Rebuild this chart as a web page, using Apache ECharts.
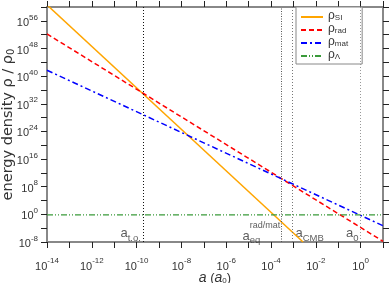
<!DOCTYPE html>
<html><head><meta charset="utf-8">
<script src="https://cdn.jsdelivr.net/npm/echarts@6/dist/echarts.min.js"></script>
<style>html,body{margin:0;padding:0;background:#fff}#c{width:390px;height:283px}</style>
</head><body><div id="c"></div>
<script>
// ---- data (scale factor a, density rho/rho0) ----
const aSI = [1e-14, 2.7e-3];
const rhoSI = [4e60, 1e-8];
const aRad = [1e-14, 10];
const rhoRad = [1.6e52, 1.6e-8];
const aMat = [1e-14, 10];
const rhoMat = [5e41, 5e-4];
const aLam = [1e-14, 10];
const rhoLam = [0.7, 0.7];
// epochs marked by vertical dotted lines
const epochNames = ['t.o.', 'eq', 'CMB', '0'];
const epochA = [1.9e-10, 2.9e-4, 9.1e-4, 1];
// tick labels (exponents of 10)
const xLabelExps = [-14, -12, -10, -8, -6, -4, -2, 0];
const yLabelExps = [-8, 0, 8, 16, 24, 32, 40, 48, 56];

const L = Math.log10;
const pts = (a, r) => a.map((x, i) => [L(x), L(r[i])]);
const FONT = 'Liberation Sans';
const TXT = '#333';
const sup = {fontSize: 8, fontFamily: FONT, color: TXT, verticalAlign: 'top', lineHeight: 9};
const base = {fontSize: 11, fontFamily: FONT, color: TXT, verticalAlign: 'bottom', lineHeight: 15};
const tickFmt = (list) => (v) => list.includes(Math.round(v)) ? `{b|10}{e|${Math.round(v)}}` : '';

const axisCommon = {
  axisLine: {show: true, onZero: false, lineStyle: {color: '#888', width: 2}},
  axisTick: {show: true, inside: false, length: 6, lineStyle: {color: '#222', width: 1}},
  splitLine: {show: false},
  nameMoveOverlap: false
};

const chart = echarts.init(document.getElementById('c'), null, {renderer: 'canvas'});
const vStyles = [
  {color: '#111', type: [1, 2], width: 1},
  {color: '#555', type: [1, 1.5], width: 1},
  {color: '#777', type: [1, 2], width: 1},
  {color: '#999', type: [1, 2], width: 1}
];
const LBL_Y = -5.6;
const annot = [
  {value: [L(epochA[0]), LBL_Y], label: {position: 'left', distance: 2, formatter: '{a|a}{s|t.o.}'}},
  {value: [L(epochA[1]), LBL_Y], label: {position: 'left', distance: 1, offset: [0, -2], formatter: '{sp|}{u|rad/mat}\n{a|a}{s|eq}{pad|}'}},
  {value: [L(epochA[2]), LBL_Y], label: {position: 'right', distance: 3, formatter: '{a|a}{s|CMB}'}},
  {value: [L(epochA[3]), LBL_Y], label: {position: 'left', distance: 2, formatter: '{a|a}{s|0}'}}
];
const annRich = {
  a: {fontSize: 13, fontFamily: FONT, color: TXT, lineHeight: 13, verticalAlign: 'bottom'},
  s: {fontSize: 9.5, fontFamily: FONT, color: TXT, lineHeight: 9, verticalAlign: 'bottom', padding: [0, 0, -3, 0]},
  sp: {width: 8, lineHeight: 9},
  u: {fontSize: 9, fontFamily: FONT, color: TXT, lineHeight: 9},
  pad: {width: 20, lineHeight: 9}
};
const legendNames = {SI: 'SI', rad: 'rad', mat: 'mat', Lambda: 'Λ'};

chart.setOption({
  animation: false,
  grid: {left: 47, right: 7, top: 7, bottom: 41, containLabel: false, outerBoundsMode: 'none'},
  legend: {
    data: ['SI', 'rad', 'mat', 'Lambda'],
    orient: 'vertical', left: 296, top: 7,
    padding: [3, 14, 3, 4], itemGap: 1, itemWidth: 22, itemHeight: 10,
    backgroundColor: '#fff', borderColor: '#888', borderWidth: 1,
    itemStyle: {opacity: 0},
    formatter: (n) => `{r|ρ}{s|${legendNames[n]}}`,
    textStyle: {rich: {
      r: {fontSize: 12, fontFamily: FONT, color: TXT, verticalAlign: 'bottom', lineHeight: 10},
      s: {fontSize: 8, fontFamily: FONT, color: TXT, verticalAlign: 'bottom', lineHeight: 8}
    }}
  },
  xAxis: [
    Object.assign({
      type: 'value', min: -14, max: 1, interval: 1, position: 'bottom',
      name: '{i|a} ({i|a}{s|0})', nameLocation: 'middle', nameGap: 29,
      nameTextStyle: {fontSize: 13, fontFamily: FONT, color: TXT, rich: {
        i: {fontSize: 14, fontStyle: 'italic', fontFamily: FONT, color: TXT, verticalAlign: 'bottom', lineHeight: 14},
        s: {fontSize: 8, fontFamily: FONT, color: TXT, verticalAlign: 'bottom', lineHeight: 10}
      }},
      axisLabel: {show: true, margin: 15, showMinLabel: true, showMaxLabel: true, formatter: tickFmt(xLabelExps), rich: {b: base, e: sup}}
    }, axisCommon),
    Object.assign({
      type: 'value', min: -14, max: 1, interval: 1, position: 'top',
      axisLabel: {show: false}
    }, axisCommon)
  ],
  yAxis: [
    Object.assign({
      type: 'value', min: -8, max: 60, interval: 4, position: 'left',
      name: '{n|energy density ρ / ρ}{s|0}', nameLocation: 'middle', nameGap: 31,
      nameTextStyle: {rich: {
        n: {fontSize: 14.5, fontFamily: 'DejaVu Sans', color: TXT, verticalAlign: 'bottom', lineHeight: 15},
        s: {fontSize: 10, fontFamily: 'DejaVu Sans', color: TXT, verticalAlign: 'bottom', lineHeight: 11}
      }},
      axisLabel: {show: true, margin: 9, showMinLabel: true, formatter: tickFmt(yLabelExps), rich: {b: base, e: sup}}
    }, axisCommon),
    Object.assign({
      type: 'value', min: -8, max: 60, interval: 4, position: 'right',
      axisLabel: {show: false}
    }, axisCommon)
  ],
  series: [
    {name: 'SI', type: 'line', data: pts(aSI, rhoSI), symbol: 'none', clip: true,
     lineStyle: {color: '#ffa500', width: 1.5}, itemStyle: {color: '#ffa500'}},
    {name: 'rad', type: 'line', data: pts(aRad, rhoRad), symbol: 'none', clip: true,
     lineStyle: {color: '#ff0000', width: 1.5, type: [5, 3]}, itemStyle: {color: '#ff0000'}},
    {name: 'mat', type: 'line', data: pts(aMat, rhoMat), symbol: 'none', clip: true,
     lineStyle: {color: '#0000ff', width: 1.5, type: [6, 3, 2, 3]}, itemStyle: {color: '#0000ff'}},
    {name: 'Lambda', type: 'line', data: pts(aLam, rhoLam), symbol: 'none', clip: true,
     lineStyle: {color: '#3a9a3a', width: 1.2, type: [6, 2, 1, 2, 1, 2]}, itemStyle: {color: '#3a9a3a'},
     markLine: {silent: true, symbol: ['none', 'none'], label: {show: false},
       data: epochA.map((a, i) => ({xAxis: L(a), lineStyle: vStyles[i], name: epochNames[i]}))}},
    {name: 'annot', type: 'scatter', symbolSize: 0, silent: true, data: annot,
     label: {show: true, rich: annRich}}
  ]
});
</script></body></html>
